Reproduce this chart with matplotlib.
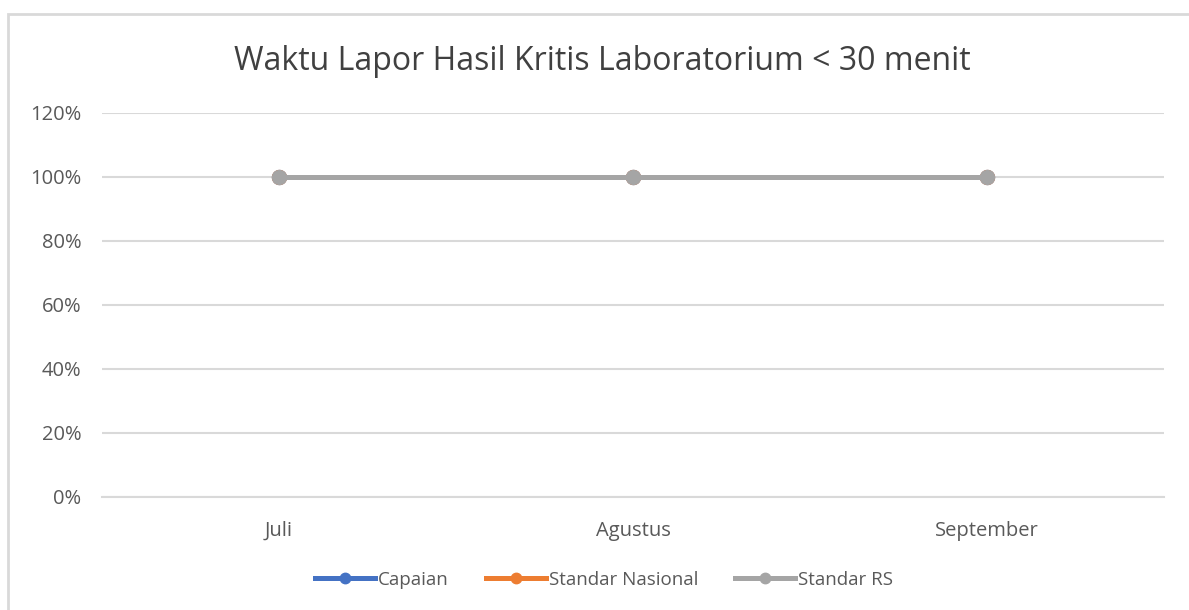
import matplotlib.pyplot as plt
from matplotlib.patches import Rectangle
from matplotlib.ticker import FuncFormatter

bulan = ['Juli', 'Agustus', 'September']
capaian = [1.0, 1.0, 1.0]
standar_nasional = [1.0, 1.0, 1.0]
standar_rs = [1.0, 1.0, 1.0]

plt.rcParams['font.family'] = ['Open Sans', 'DejaVu Sans']
teks = '#595959'

fig = plt.figure(figsize=(11.89, 6.1), dpi=100)
ax = fig.add_axes([102 / 1189, 1 - 497 / 610, (1164 - 102) / 1189, (497 - 113) / 610])

# bingkai chart
fig.patches.append(Rectangle((8 / 1189, -0.1), 1.2, 1 - 14 / 610 + 0.1,
                             transform=fig.transFigure, fill=False,
                             edgecolor='#d9d9d9', linewidth=2))

x = range(len(bulan))
ax.plot(x, capaian, color='#4472c4', linewidth=3.6, marker='o', markersize=10, label='Capaian')
ax.plot(x, standar_nasional, color='#ed7d31', linewidth=3.6, marker='o', markersize=10, label='Standar Nasional')
ax.plot(x, standar_rs, color='#a5a5a5', linewidth=3.6, marker='o', markersize=10, label='Standar RS')

ax.set_xlim(-0.5, 2.5)
ax.set_ylim(0, 1.2)
ax.set_yticks([0, 0.2, 0.4, 0.6, 0.8, 1.0, 1.2])
ax.yaxis.set_major_formatter(FuncFormatter(lambda v, p: f'{v * 100:.0f}%'))
ax.set_xticks(list(x))
ax.set_xticklabels(bulan)
ax.grid(axis='y', color='#d9d9d9', linewidth=1.5)
ax.set_axisbelow(True)
for s in ax.spines.values():
    s.set_visible(False)
ax.spines['bottom'].set_visible(True)
ax.spines['bottom'].set_color('#d9d9d9')
ax.spines['bottom'].set_linewidth(1.5)
ax.tick_params(length=0, labelsize=14.5, colors=teks)
ax.tick_params(axis='y', pad=15)
ax.tick_params(axis='x', pad=17)

fig.text(602 / 1189, 1 - 61 / 610, 'Waktu Lapor Hasil Kritis Laboratorium < 30 menit',
         ha='center', va='center', fontsize=23, color='#404040')

fig.legend(loc='center', bbox_to_anchor=(604 / 1189, 1 - 580 / 610), ncol=3, frameon=False,
           fontsize=13.5, labelcolor=teks, handlelength=3.2, handletextpad=0.15,
           columnspacing=2, markerscale=0.75)

fig.savefig('out.png', dpi=100)
